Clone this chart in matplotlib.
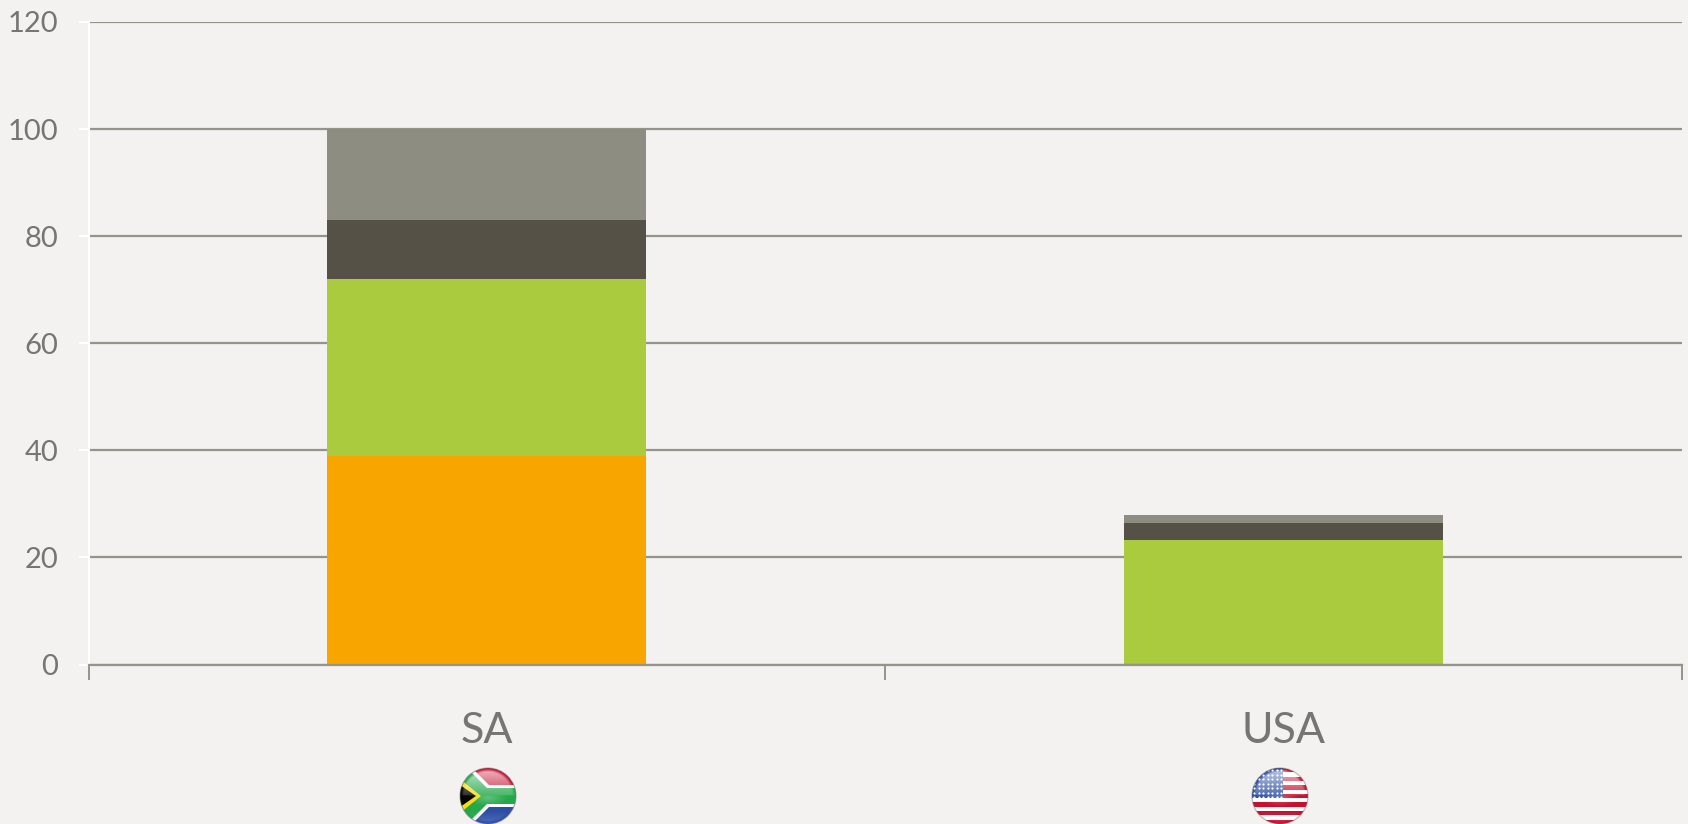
#!/usr/bin/env python3
import matplotlib
matplotlib.use('Agg')
import matplotlib.pyplot as plt
from matplotlib.patches import Circle, Polygon, Rectangle
from matplotlib.transforms import blended_transform_factory
import numpy as np

W, H = 1688, 824
BG = '#f3f2f0'
GRID = '#95948b'
TXT = '#757575'

countries = ['SA', 'USA']
orange_vals = [39, 0.25]
green_vals = [33, 23.05]
dark_vals = [11, 3.2]
grey_vals = [17, 1.5]
seg_colors = ['#f8a500', '#abcb3e', '#555146', '#8e8d82']
y_ticks = [0, 20, 40, 60, 80, 100, 120]


def flag_ax(fig, cx, cy, r):
    # small axes in pixel coords, y pointing down, one unit = one pixel
    ax = fig.add_axes([(cx - r - 2) / W, 1 - (cy + r + 2) / H, (2 * r + 4) / W, (2 * r + 4) / H])
    ax.set_xlim(cx - r - 2, cx + r + 2)
    ax.set_ylim(cy + r + 2, cy - r - 2)
    ax.axis('off')
    ax.patch.set_alpha(0)
    clip = Circle((cx, cy), r, transform=ax.transData)
    return ax, clip


def shine(ax, cx, cy, r):
    # glassy look: pale top half, bright middle, soft dark rim
    n = 160
    yy, xx = np.mgrid[-1:1:n * 1j, -1:1:n * 1j]
    d = np.hypot(xx, yy)
    rgba = np.ones((n, n, 4))
    top = np.clip(-yy / 0.9, 0, 1)
    alpha = 0.66 * np.where(yy < -0.02, 0.25 + 0.75 * top, 0.0)
    alpha += 0.28 * np.clip(1 - np.hypot(xx, (yy - 0.05) * 2.2) / 0.7, 0, 1) * (yy >= -0.02)
    alpha += 0.18 * np.clip((yy - 0.55) / 0.45, 0, 1)
    alpha *= np.clip((0.97 - d) / 0.1, 0, 1)
    rgba[..., 3] = alpha
    im = ax.imshow(rgba, extent=(cx - r, cx + r, cy + r, cy - r), zorder=5, interpolation='bilinear', aspect='auto')
    im.set_clip_path(Circle((cx, cy), r, transform=ax.transData))
    ax.set_xlim(cx - r - 2, cx + r + 2)
    ax.set_ylim(cy + r + 2, cy - r - 2)
    ax.add_patch(Circle((cx, cy), r, fc='none', ec='#6d6d70', lw=0.9, alpha=0.45, zorder=6))


def sa_flag(fig, cx, cy, r):
    ax, clip = flag_ax(fig, cx, cy, r)
    x0, x1 = cx - r, cx + r
    y0, y1 = cy - r, cy + r
    patches = [
        Rectangle((x0, y0), 2 * r, r, fc='#c41230'),
        Rectangle((x0, cy), 2 * r, r, fc='#2c4fa6'),
        Polygon([(x0, y0), (cx - 16, y0), (cx + 1, cy - 11), (x1, cy - 11), (x1, cy + 11),
                 (cx + 1, cy + 11), (cx - 16, y1), (x0, y1)], fc='white'),
        Polygon([(x0, y0), (cx - 21, y0), (cx - 1, cy - 8), (x1, cy - 8), (x1, cy + 8),
                 (cx - 1, cy + 8), (cx - 21, y1), (x0, y1)], fc='#25a84a'),
        Polygon([(x0, cy - 17), (cx - 7, cy), (x0, cy + 17)], fc='#f7dc14'),
        Polygon([(x0, cy - 11), (cx - 12, cy), (x0, cy + 11)], fc='#050505'),
    ]
    for p in patches:
        ax.add_patch(p)
        p.set_clip_path(clip)
    shine(ax, cx, cy, r)


def usa_flag(fig, cx, cy, r):
    ax, clip = flag_ax(fig, cx, cy, r)
    h = 2 * r / 13
    for i in range(13):
        p = Rectangle((cx - r, cy - r + i * h), 2 * r, h, fc='#c8102e' if i % 2 == 0 else 'white')
        ax.add_patch(p)
        p.set_clip_path(clip)
    canton = Rectangle((cx - r, cy - r), r * 1.1, 7 * h, fc='#2c4f9e')
    ax.add_patch(canton)
    canton.set_clip_path(clip)
    sx, sy = np.meshgrid(np.arange(cx - r + 2, cx + 2, 4.5), np.arange(cy - r + 2, cy - r + 7 * h, 4.5))
    dots = ax.scatter(sx.ravel(), sy.ravel(), s=2.5, c='white', linewidths=0, zorder=3)
    dots.set_clip_path(clip)
    shine(ax, cx, cy, r)


def main():
    plt.rcParams['font.family'] = ['Lato', 'DejaVu Sans']
    fig = plt.figure(figsize=(W / 100, H / 100), dpi=100, facecolor=BG)
    left, right, top, bottom = 88.5, 1681.5, 22, 664.5
    ax = fig.add_axes([left / W, 1 - bottom / H, (right - left) / W, (bottom - top) / H])
    ax.set_facecolor(BG)

    x = np.arange(len(countries))
    base = np.zeros(len(countries))
    for vals, col in zip([orange_vals, green_vals, dark_vals, grey_vals], seg_colors):
        ax.bar(x, vals, 0.4, bottom=base, color=col, linewidth=0, zorder=3)
        base = base + np.array(vals)

    ax.set_xlim(-0.5, 1.5)
    ax.set_ylim(0, 120)
    ax.set_yticks(y_ticks)
    ax.grid(True, axis='y', color=GRID, lw=1.6, zorder=1)
    ax.set_axisbelow(True)
    for s in ['top', 'right']:
        ax.spines[s].set_visible(False)
    ax.spines['left'].set_color('white')
    ax.spines['left'].set_linewidth(1.5)
    ax.spines['bottom'].set_color(GRID)
    ax.spines['bottom'].set_linewidth(1.6)
    ax.spines['bottom'].set_zorder(4)
    ax.tick_params(axis='y', length=7, width=1.5, color='white', labelsize=21, labelcolor=TXT, pad=15)

    # category ticks sit on the group boundaries, labels in the middle
    ax.set_xticks([-0.5, 0.5, 1.5])
    ax.set_xticklabels([])
    ax.tick_params(axis='x', length=11, width=1.4, color=GRID)
    label_tf = blended_transform_factory(ax.transData, fig.transFigure)
    for xi, name in zip(x, countries):
        ax.text(xi, 1 - 731 / H, name, transform=label_tf, ha='center', va='center', fontsize=31, color=TXT)

    sa_flag(fig, 488, 796, 28)
    usa_flag(fig, 1280, 796, 28)

    fig.savefig('out.png', dpi=100, facecolor=BG)


if __name__ == '__main__':
    main()
